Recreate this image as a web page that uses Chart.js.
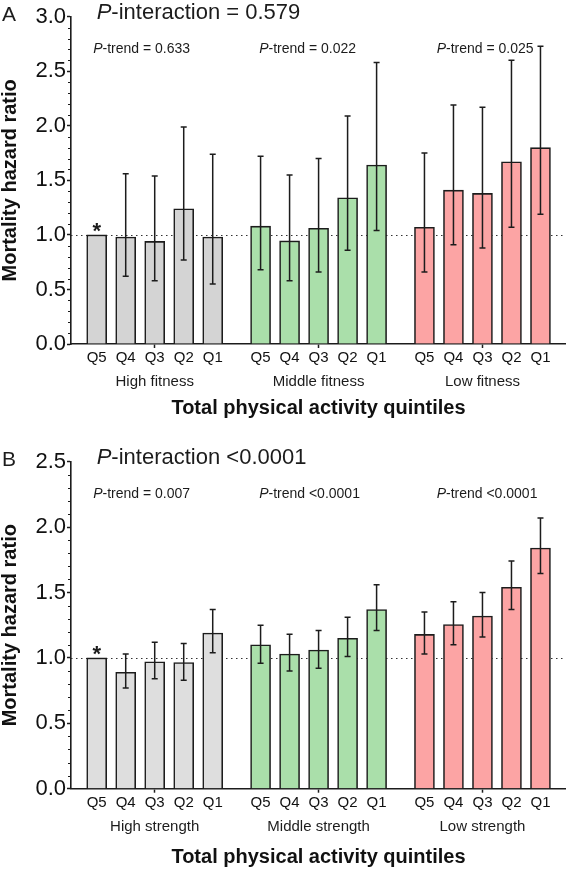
<!DOCTYPE html>
<html>
<head>
<meta charset="utf-8">
<script src="https://cdn.jsdelivr.net/npm/chart.js@4.4.1/dist/chart.umd.min.js"></script>
<style>
  html, body { margin: 0; padding: 0; background: #fff; }
  #wrap { position: relative; width: 566px; height: 869px; }
  canvas { position: absolute; left: 0; }
</style>
</head>
<body>
<div id="wrap">
  <canvas id="panelA" width="566" height="425" style="top:0"></canvas>
  <canvas id="panelB" width="566" height="444" style="top:425px"></canvas>
</div>
<script>
// Data
const quintiles = ['Q5', 'Q4', 'Q3', 'Q2', 'Q1'];

const fitnessGroups = ['High fitness', 'Middle fitness', 'Low fitness'];
const fitnessHR = [
    [1.00, 0.98, 0.94, 1.24, 0.98],
    [1.08, 0.945, 1.06, 1.34, 1.64],
    [1.07, 1.41, 1.38, 1.67, 1.80]
];
const fitnessLower = [
    [null, 0.62, 0.58, 0.77, 0.55],
    [0.68, 0.58, 0.66, 0.86, 1.04],
    [0.66, 0.91, 0.88, 1.07, 1.19]
];
const fitnessUpper = [
    [null, 1.56, 1.54, 1.99, 1.74],
    [1.72, 1.55, 1.70, 2.09, 2.58],
    [1.75, 2.19, 2.17, 2.60, 2.73]
];
const fitnessTrend = ['= 0.633', '= 0.022', '= 0.025'];
const fitnessInteraction = '= 0.579';

const strengthGroups = ['High strength', 'Middle strength', 'Low strength'];
const strengthHR = [
    [1.00, 0.89, 0.97, 0.965, 1.19],
    [1.10, 1.03, 1.06, 1.15, 1.37],
    [1.18, 1.255, 1.32, 1.54, 1.84]
];
const strengthLower = [
    [null, 0.77, 0.84, 0.83, 1.04],
    [0.96, 0.90, 0.92, 1.01, 1.21],
    [1.03, 1.10, 1.16, 1.37, 1.645]
];
const strengthUpper = [
    [null, 1.03, 1.12, 1.11, 1.37],
    [1.25, 1.18, 1.21, 1.31, 1.56],
    [1.35, 1.43, 1.50, 1.74, 2.07]
];
const strengthTrend = ['= 0.007', '<0.0001', '<0.0001'];
const strengthInteraction = '<0.0001';

const yRangeA = [0, 3.0];
const yRangeB = [0, 2.5];

// Styling / layout
const FONT = '"Liberation Sans", Arial, Helvetica, sans-serif';
const INK = '#1c1c1c';
const groupColorsA = ['#d4d4d4', '#aadfaa', '#fca4a4'];
const groupColorsB = ['#dedede', '#aadfaa', '#fca4a4'];
const groupStride = 5.65;
const trendOffset = [-0.12, -0.05, 0.42];

Chart.defaults.font.family = FONT;
Chart.defaults.color = '#111';

function xPos(g, i) {
    return g * groupStride + i;
}

function drawPText(ctx, x, y, rest, size) {
    ctx.font = `italic ${size}px ${FONT}`;
    ctx.fillText('P', x, y);
    const w = ctx.measureText('P').width;
    ctx.font = `${size}px ${FONT}`;
    ctx.fillText(rest, x + w, y);
}

function makePanel(canvasId, cfg) {
    const ctx = document.getElementById(canvasId).getContext('2d');
    const ticks = [];
    cfg.hr.forEach((vals, g) => vals.forEach((v, i) => ticks.push(xPos(g, i))));

    const decor = {
        id: 'decor' + canvasId,
        beforeDatasetsDraw(chart) {
            const { ctx, chartArea } = chart;
            const y1 = Math.round(chart.scales.y.getPixelForValue(1)) + 0.5;
            ctx.save();
            ctx.strokeStyle = '#333';
            ctx.lineWidth = 1.2;
            ctx.setLineDash([1.5, 3.5]);
            ctx.beginPath();
            ctx.moveTo(chartArea.left, y1);
            ctx.lineTo(chartArea.right, y1);
            ctx.stroke();
            ctx.restore();
        },
        afterDatasetsDraw(chart) {
            const { ctx } = chart;
            const yScale = chart.scales.y;
            ctx.save();
            ctx.strokeStyle = INK;
            ctx.lineWidth = 1.5;
            cfg.hr.forEach((vals, g) => {
                const meta = chart.getDatasetMeta(g);
                meta.data.forEach((el, i) => {
                    const lo = cfg.lower[g][i];
                    const hi = cfg.upper[g][i];
                    if (lo == null || hi == null) return;
                    const yl = yScale.getPixelForValue(lo);
                    const yh = yScale.getPixelForValue(hi);
                    ctx.beginPath();
                    ctx.moveTo(el.x, yl);
                    ctx.lineTo(el.x, yh);
                    ctx.moveTo(el.x - 3, yl);
                    ctx.lineTo(el.x + 3, yl);
                    ctx.moveTo(el.x - 3, yh);
                    ctx.lineTo(el.x + 3, yh);
                    ctx.stroke();
                });
            });
            // reference group marker
            const ref = chart.getDatasetMeta(0).data[0];
            ctx.fillStyle = INK;
            ctx.font = `bold 22px ${FONT}`;
            ctx.textAlign = 'center';
            ctx.textBaseline = 'alphabetic';
            ctx.fillText('*', ref.x, ref.y + 3);
            ctx.restore();
        },
        afterDraw(chart) {
            const { ctx, chartArea } = chart;
            const xScale = chart.scales.x;
            const yScale = chart.scales.y;
            ctx.save();
            ctx.fillStyle = INK;
            ctx.strokeStyle = INK;

            // minor ticks on the y axis
            ctx.lineWidth = 1;
            for (let v = 0.1; v < cfg.yRange[1]; v += 0.1) {
                if (Math.abs(v / 0.5 - Math.round(v / 0.5)) < 1e-6) continue;
                const y = Math.round(yScale.getPixelForValue(v)) + 0.5;
                ctx.beginPath();
                ctx.moveTo(chartArea.left - 3, y);
                ctx.lineTo(chartArea.left, y);
                ctx.stroke();
            }

            // panel letter and interaction p-value
            ctx.textAlign = 'left';
            ctx.textBaseline = 'alphabetic';
            ctx.font = `21px ${FONT}`;
            ctx.fillText(cfg.letter, 2, chartArea.top + 4);
            drawPText(ctx, 96.7, chartArea.top + 2, '-interaction ' + cfg.interaction, 22);

            // p-trend per group
            cfg.trend.forEach((t, g) => {
                const x = xScale.getPixelForValue(xPos(g, 0) + trendOffset[g]);
                drawPText(ctx, x, chartArea.top + 36, '-trend ' + t, 14);
            });

            // group names under the quintile labels
            ctx.font = `15px ${FONT}`;
            ctx.textAlign = 'center';
            ctx.textBaseline = 'middle';
            cfg.groups.forEach((name, g) => {
                const x = xScale.getPixelForValue(xPos(g, 2));
                ctx.fillText(name, x, chartArea.bottom + 38);
            });
            ctx.restore();
        }
    };

    return new Chart(ctx, {
        type: 'bar',
        data: {
            datasets: cfg.hr.map((vals, g) => ({
                label: cfg.groups[g],
                data: vals.map((v, i) => ({ x: xPos(g, i), y: v })),
                backgroundColor: cfg.colors[g],
                borderColor: INK,
                borderWidth: 1.6,
                barThickness: 20,
                grouped: false
            }))
        },
        options: {
            responsive: false,
            animation: false,
            layout: { padding: { top: cfg.padTop, right: 0, left: 0, bottom: 0 } },
            plugins: {
                legend: { display: false },
                tooltip: { enabled: false }
            },
            scales: {
                x: {
                    type: 'linear',
                    offset: false,
                    min: -0.886,
                    max: 16.18,
                    afterBuildTicks: axis => {
                        axis.ticks = ticks.map(v => ({ value: v }));
                    },
                    afterFit: axis => { axis.height = cfg.xAxisH; },
                    ticks: {
                        autoSkip: false,
                        maxRotation: 0,
                        padding: 1,
                        color: '#111',
                        font: { size: 15 },
                        callback: (v, i) => quintiles[i % 5]
                    },
                    grid: {
                        offset: false,
                        drawOnChartArea: false,
                        drawTicks: true,
                        tickLength: 4,
                        tickWidth: 1.5,
                        tickColor: c => (c.index % 5 === 2 ? INK : 'rgba(0,0,0,0)')
                    },
                    border: { display: true, color: INK, width: 1.6 },
                    title: {
                        display: true,
                        text: 'Total physical activity quintiles',
                        color: '#111',
                        font: { size: 20, weight: 'bold', lineHeight: 1.2 },
                        padding: { top: 0, bottom: cfg.titlePad }
                    }
                },
                y: {
                    min: cfg.yRange[0],
                    max: cfg.yRange[1],
                    afterFit: axis => { axis.width = 71; },
                    ticks: {
                        stepSize: 0.5,
                        padding: 1,
                        color: '#111',
                        font: { size: 22 },
                        callback: v => v.toFixed(1)
                    },
                    grid: {
                        drawOnChartArea: false,
                        drawTicks: true,
                        tickLength: 4,
                        tickWidth: 1.5,
                        tickColor: INK
                    },
                    border: { display: true, color: INK, width: 1.6 },
                    title: {
                        display: true,
                        text: 'Mortality hazard ratio',
                        color: '#111',
                        font: { size: 20, weight: 'bold', lineHeight: 1 },
                        padding: 0
                    }
                }
            }
        },
        plugins: [decor]
    });
}

makePanel('panelA', {
    hr: fitnessHR,
    lower: fitnessLower,
    upper: fitnessUpper,
    groups: fitnessGroups,
    trend: fitnessTrend,
    interaction: fitnessInteraction,
    letter: 'A',
    colors: groupColorsA,
    yRange: yRangeA,
    padTop: 16.7,
    xAxisH: 81,
    titlePad: 5
});

makePanel('panelB', {
    hr: strengthHR,
    lower: strengthLower,
    upper: strengthUpper,
    groups: strengthGroups,
    trend: strengthTrend,
    interaction: strengthInteraction,
    letter: 'B',
    colors: groupColorsB,
    yRange: yRangeB,
    padTop: 36.7,
    xAxisH: 80.3,
    titlePad: 0
});
</script>
</body>
</html>
